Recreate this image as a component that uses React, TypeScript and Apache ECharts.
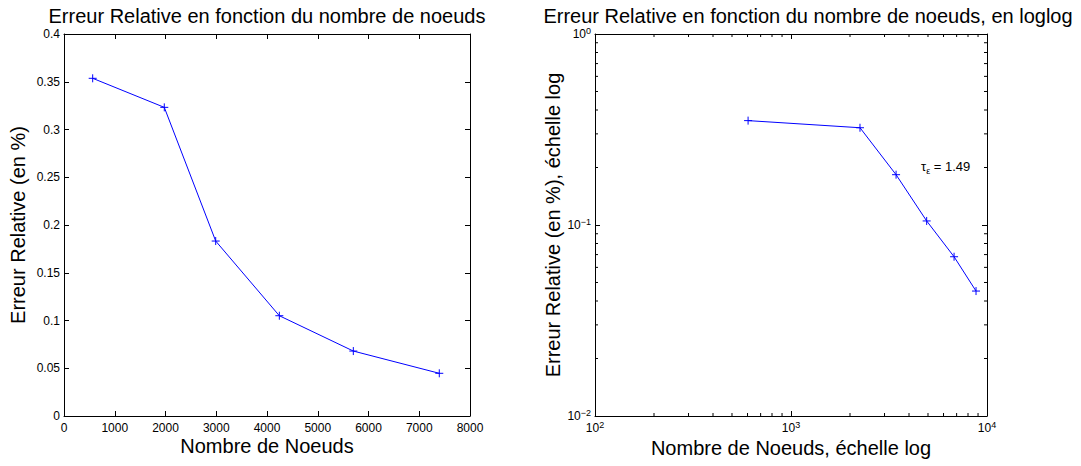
import React, { useEffect, useRef } from "react";
import * as echarts from "echarts";

// Left plot (linear)
const nodes = [565, 1976, 2989, 4243, 5701, 7395];
const errors = [0.3536, 0.3232, 0.1832, 0.105, 0.068, 0.0447];
// Right plot (loglog)
const nodesLog = [604, 2249, 3436, 4922, 6792, 8790];
const errorsLog = [0.352, 0.323, 0.1834, 0.105, 0.0682, 0.0451];
// Minor tick positions for log axes
const minorTicksX = [200, 300, 400, 500, 600, 700, 800, 900, 2000, 3000, 4000, 5000, 6000, 7000, 8000, 9000];
const minorTicksY = [0.02, 0.03, 0.04, 0.05, 0.06, 0.07, 0.08, 0.09, 0.2, 0.3, 0.4, 0.5, 0.6, 0.7, 0.8, 0.9];

const titleLeft = "Erreur Relative en fonction du nombre de noeuds";
const titleRight = "Erreur Relative en fonction du nombre de noeuds, en loglog";
const xLabelLeft = "Nombre de Noeuds";
const xLabelRight = "Nombre de Noeuds, échelle log";
const yLabelLeft = "Erreur Relative (en %)";
const yLabelRight = "Erreur Relative (en %), échelle log";
const slopeText = "1.49";

const FONT = "'Liberation Sans', Arial, sans-serif";

export default function App() {
  const ref = useRef<HTMLDivElement>(null);
  useEffect(() => {
    if (!ref.current) return;
    const chart = echarts.init(ref.current, undefined, { renderer: "svg" });
    const axisLine = { show: true, onZero: false, lineStyle: { color: "#000", width: 1 } };
    const tick = { show: true, inside: true, length: 5, lineStyle: { color: "#000" } };
    const lbl = { color: "#000", fontSize: 12, fontFamily: FONT };
    const logFmt = (v: number) => {
      const e = Math.round(Math.log10(v));
      return "{b|10}{s|" + (e < 0 ? "\u2212" + -e : String(e)) + "}";
    };
    const rich = {
      b: { fontSize: 12, fontFamily: FONT, color: "#000", lineHeight: 16 },
      s: { fontSize: 9, fontFamily: FONT, color: "#000", verticalAlign: "top" as const, lineHeight: 10 },
    };
    const linX = { type: "value", min: 0, max: 8000, interval: 1000, splitLine: { show: false }, axisLine, axisTick: tick };
    const linY = { type: "value", min: 0, max: 0.4, interval: 0.05, splitLine: { show: false }, axisLine, axisTick: tick };
    const logX = { type: "log", logBase: 10, min: 100, max: 10000, splitLine: { show: false }, axisLine, axisTick: tick };
    const logY = { type: "log", logBase: 10, min: 0.01, max: 1, splitLine: { show: false }, axisLine, axisTick: tick };

    const minorLen = 3;
    const stroke = { stroke: "#000", lineWidth: 1 };

    chart.setOption({
      animation: false,
      grid: [
        { left: 64, top: 34, width: 406, height: 382 },
        { left: 595, top: 34, width: 392, height: 382 },
      ],
      xAxis: [
        { ...linX, gridIndex: 0, position: "bottom", axisLabel: { ...lbl, margin: 6, formatter: (v: number) => String(v) } },
        { ...linX, gridIndex: 0, position: "top", axisLabel: { show: false } },
        { ...logX, gridIndex: 1, position: "bottom", axisLabel: { ...lbl, margin: 4, formatter: logFmt, rich } },
        { ...logX, gridIndex: 1, position: "top", axisLabel: { show: false } },
      ],
      yAxis: [
        { ...linY, gridIndex: 0, position: "left", axisLabel: { ...lbl, margin: 4, formatter: (v: number) => String(Math.round(v * 100) / 100) } },
        { ...linY, gridIndex: 0, position: "right", axisLabel: { show: false } },
        { ...logY, gridIndex: 1, position: "left", axisLabel: { ...lbl, margin: 4, formatter: logFmt, rich } },
        { ...logY, gridIndex: 1, position: "right", axisLabel: { show: false } },
      ],
      series: [
        {
          type: "line",
          xAxisIndex: 0,
          yAxisIndex: 0,
          data: nodes.map((x, i) => [x, errors[i]]),
          lineStyle: { color: "#0000ff", width: 1 },
          symbol: "path://M-4,0L4,0M0,-4L0,4",
          symbolSize: 8,
          itemStyle: { color: "#0000ff", borderColor: "#0000ff", borderWidth: 1 },
          showSymbol: true,
        },
        {
          type: "line",
          xAxisIndex: 2,
          yAxisIndex: 2,
          data: nodesLog.map((x, i) => [x, errorsLog[i]]),
          lineStyle: { color: "#0000ff", width: 1 },
          symbol: "path://M-4,0L4,0M0,-4L0,4",
          symbolSize: 8,
          itemStyle: { color: "#0000ff", borderColor: "#0000ff", borderWidth: 1 },
          showSymbol: true,
        },
        {
          type: "custom",
          xAxisIndex: 2,
          yAxisIndex: 2,
          silent: true,
          clip: false,
          data: minorTicksX.map((v) => [v, 0.01]),
          renderItem: (params: any, api: any) => {
            const v = api.value(0);
            const b = api.coord([v, 0.01]);
            const t = api.coord([v, 1]);
            return {
              type: "group",
              children: [
                { type: "line", shape: { x1: b[0], y1: b[1], x2: b[0], y2: b[1] - minorLen }, style: stroke },
                { type: "line", shape: { x1: t[0], y1: t[1], x2: t[0], y2: t[1] + minorLen }, style: stroke },
              ],
            };
          },
        },
        {
          type: "custom",
          xAxisIndex: 2,
          yAxisIndex: 2,
          silent: true,
          clip: false,
          data: minorTicksY.map((v) => [100, v]),
          renderItem: (params: any, api: any) => {
            const v = api.value(1);
            const l = api.coord([100, v]);
            const r = api.coord([10000, v]);
            return {
              type: "group",
              children: [
                { type: "line", shape: { x1: l[0], y1: l[1], x2: l[0] + minorLen, y2: l[1] }, style: stroke },
                { type: "line", shape: { x1: r[0], y1: r[1], x2: r[0] - minorLen, y2: r[1] }, style: stroke },
              ],
            };
          },
        },
      ],
      graphic: [
        { type: "text", x: 267, y: 16, style: { text: titleLeft, fontSize: 20, fontFamily: FONT, fill: "#000", align: "center", verticalAlign: "middle" } },
        { type: "text", x: 808, y: 16, style: { text: titleRight, fontSize: 20, fontFamily: FONT, fill: "#000", align: "center", verticalAlign: "middle" } },
        { type: "text", x: 267, y: 446, style: { text: xLabelLeft, fontSize: 20, fontFamily: FONT, fill: "#000", align: "center", verticalAlign: "middle" } },
        { type: "text", x: 791, y: 448, style: { text: xLabelRight, fontSize: 20, fontFamily: FONT, fill: "#000", align: "center", verticalAlign: "middle" } },
        { type: "text", x: 18, y: 225, rotation: Math.PI / 2, style: { text: yLabelLeft, fontSize: 20, fontFamily: FONT, fill: "#000", align: "center", verticalAlign: "middle" } },
        { type: "text", x: 553, y: 225, rotation: Math.PI / 2, style: { text: yLabelRight, fontSize: 20, fontFamily: FONT, fill: "#000", align: "center", verticalAlign: "middle" } },
        {
          type: "text",
          x: 921,
          y: 166,
          style: {
            text: "{a|\u03c4}{e|\u03b5}{a| = " + slopeText + "}",
            fontFamily: FONT,
            fill: "#000",
            align: "left",
            verticalAlign: "middle",
            rich: {
              a: { fontSize: 13, fontFamily: FONT, fill: "#000", lineHeight: 18 },
              e: { fontSize: 9, fontFamily: FONT, fill: "#000", verticalAlign: "bottom", lineHeight: 18 },
            },
          },
        },
      ],
    });
    return () => chart.dispose();
  }, []);
  return <div ref={ref} style={{ position: "absolute", left: 0, top: 0, width: 1081, height: 466 }} />;
}
